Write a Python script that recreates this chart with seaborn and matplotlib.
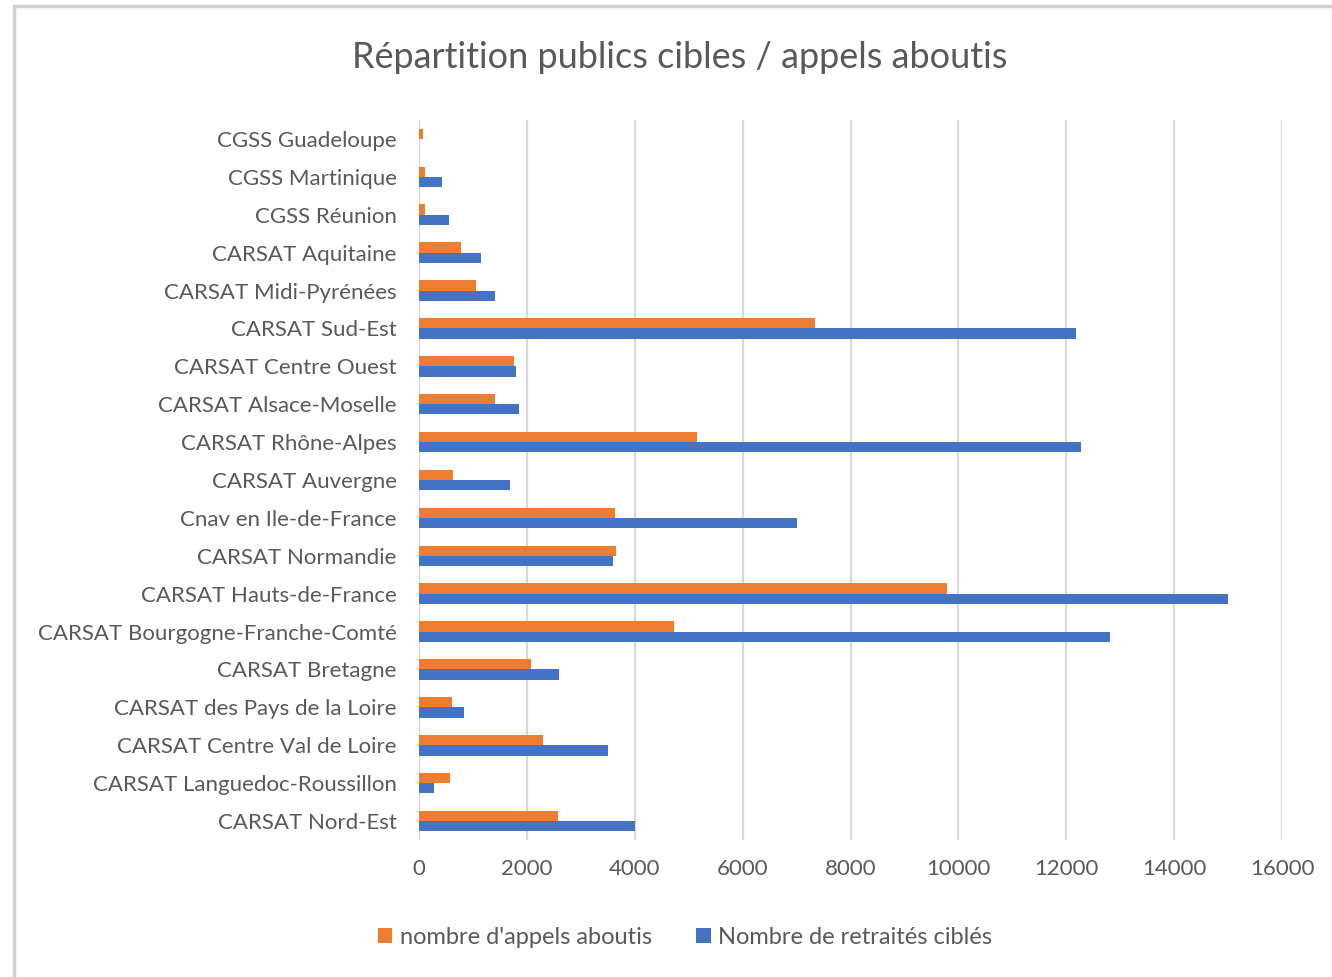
import matplotlib
matplotlib.use("Agg")
import matplotlib.pyplot as plt
import seaborn as sns
import pandas as pd
from matplotlib.patches import Rectangle

categories = [
    "CGSS Guadeloupe", "CGSS Martinique", "CGSS Réunion", "CARSAT Aquitaine",
    "CARSAT Midi-Pyrénées", "CARSAT Sud-Est", "CARSAT Centre Ouest",
    "CARSAT Alsace-Moselle", "CARSAT Rhône-Alpes", "CARSAT Auvergne",
    "Cnav en Ile-de-France", "CARSAT Normandie", "CARSAT Hauts-de-France",
    "CARSAT Bourgogne-Franche-Comté", "CARSAT Bretagne",
    "CARSAT des Pays de la Loire", "CARSAT Centre Val de Loire",
    "CARSAT Languedoc-Roussillon", "CARSAT Nord-Est",
]
appels = [80, 110, 110, 780, 1057, 7334, 1753, 1405, 5144, 629,
          3624, 3645, 9779, 4727, 2074, 605, 2304, 580, 2577]
retraites = [0, 430, 555, 1157, 1405, 12171, 1801, 1857, 12276, 1678,
             7010, 3597, 14994, 12802, 2601, 834, 3501, 282, 3997]
series = ["nombre d'appels aboutis", "Nombre de retraités ciblés"]
colors = ["#ED7D31", "#4472C4"]
xticks = list(range(0, 16001, 2000))

df = pd.DataFrame({
    "cat": categories * 2,
    "val": appels + retraites,
    "serie": [series[0]] * len(categories) + [series[1]] * len(categories),
})

sns.set_theme(style="white")
plt.rcParams["font.family"] = ["Lato", "DejaVu Sans"]
txt = "#595959"

fig = plt.figure(figsize=(13.32, 9.77), dpi=100)
ax = fig.add_axes([0.3146, 0.1402, 0.9625 - 0.3146, 0.8772 - 0.1402])

sns.barplot(data=df, y="cat", x="val", hue="serie", order=categories,
            hue_order=series, palette=dict(zip(series, colors)),
            orient="h", width=0.54, ax=ax, legend=True, saturation=1,
            edgecolor="none")

ax.set_xlim(0, 16000)
ax.set_xticks(xticks)
ax.set_xticklabels([str(t) for t in xticks], fontsize=16, color=txt)
ax.tick_params(axis="y", labelsize=16, labelcolor=txt, length=0, pad=16)
ax.tick_params(axis="x", length=0, pad=14)
ax.set_xlabel("")
ax.set_ylabel("")
ax.grid(axis="x", color="#d9d9d9", linewidth=1.6)
ax.set_axisbelow(True)
for s in ax.spines.values():
    s.set_visible(False)
ax.axvline(0, color="#d9d9d9", linewidth=1.6, zorder=0)

leg = ax.legend(loc="center", frameon=False,
                ncol=2, fontsize=17, handlelength=0.6, handleheight=0.6,
                handletextpad=0.3, columnspacing=1.9, labelcolor=txt)
leg.set_bbox_to_anchor((685 / 1332, 1 - 937 / 977), transform=fig.transFigure)

fig.text(680 / 1332, 1 - 58 / 977, "Répartition publics cibles / appels aboutis",
         ha="center", va="center", fontsize=26, color=txt)

fig.patches.append(Rectangle((14 / 1332, -0.01), 1.1, 1 - 6 / 977 + 0.01,
                             transform=fig.transFigure, fill=False,
                             edgecolor="#d0d0d0", linewidth=2.5))

fig.savefig("out.png", dpi=100)
